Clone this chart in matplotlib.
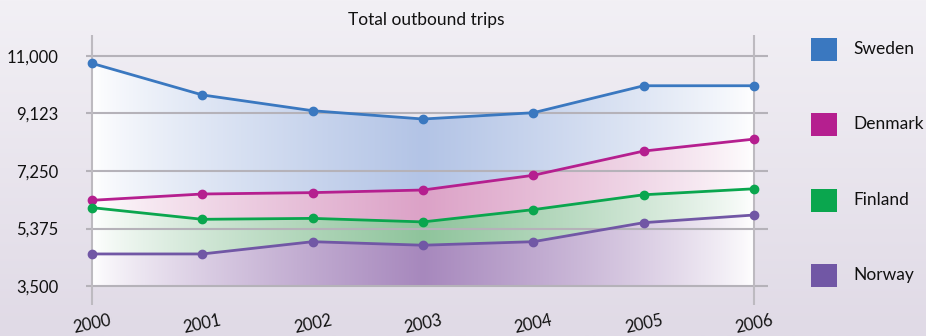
import numpy as np
import matplotlib.pyplot as plt
from matplotlib.colors import to_rgb
from matplotlib.patches import Rectangle

years = [2000, 2001, 2002, 2003, 2004, 2005, 2006]
sweden = [10760, 9730, 9215, 8945, 9150, 10030, 10030]
denmark = [6295, 6500, 6545, 6630, 7110, 7900, 8290]
finland = [6055, 5675, 5705, 5590, 5990, 6475, 6670]
norway = [4545, 4545, 4945, 4830, 4945, 5565, 5815]

names = ["Sweden", "Denmark", "Finland", "Norway"]
line_colors = ["#3a78c0", "#b51f8f", "#0aa64e", "#7157a5"]
fill_colors = ["#b3c4e6", "#dca2c7", "#8fc49c", "#a788bd"]

ytick_vals = [3500, 5375, 7250, 9125, 11000]
ytick_labels = ["3,500", "5,375", "7,250", "9,123", "11,000"]

plt.rcParams['font.family'] = ['Lato', 'DejaVu Sans']

fig = plt.figure(figsize=(9.26, 3.36), dpi=100)

# background gradient
bg = fig.add_axes([0, 0, 1, 1], zorder=-10)
top = np.array(to_rgb("#f2f0f5"))
bot = np.array(to_rgb("#e0dae6"))
g = np.linspace(0, 1, 200)[:, None, None]
bg.imshow(top * (1 - g) + bot * g, aspect='auto', extent=(0, 1, 0, 1), origin='upper')
bg.axis('off')

ax = fig.add_axes([86 / 926, 31 / 336, 682 / 926, 270 / 336])
ax.patch.set_visible(False)
ax.set_xlim(2000 - 6 / 110.33, 2006 + 14 / 110.33)
ax.set_ylim(3500 - 19 * 32.6, 11000 + 21 * 32.6)

data = [sweden, denmark, finland, norway]
lowers = [denmark, finland, norway, [3500] * len(years)]

# horizontal gradient: white at the ends, full colour in the middle
xs = np.linspace(2000, 2006, 400)
t = (1 - np.abs(xs - 2003) / 3) ** 0.8
for upper, lower, fc in zip(data, lowers, fill_colors):
    poly = ax.fill_between(years, lower, upper, facecolor='none', edgecolor='none')
    c = np.array(to_rgb(fc))
    img = np.ones(3)[None, :] * (1 - t[:, None]) + c[None, :] * t[:, None]
    im = ax.imshow(img[None, :, :], extent=(2000, 2006, 3500, 11000), aspect='auto',
                   interpolation='bilinear', zorder=1)
    im.set_clip_path(poly.get_paths()[0], ax.transData)

for v in ytick_vals:
    ax.axhline(v, color="#b5b2b9", lw=1.5, zorder=2)
for x in (2000, 2006):
    ax.axvline(x, color="#bdbac0", lw=1.5, zorder=2)

for vals, lc in zip(data, line_colors):
    ax.plot(years, vals, color=lc, lw=2, marker='o', markersize=6, zorder=3)

ax.set_yticks(ytick_vals)
ax.set_yticklabels(ytick_labels)
ax.set_xticks(years)
ax.set_xticklabels([str(y) for y in years], rotation=12, ha='center')
ax.tick_params(axis='y', length=0, pad=20, labelsize=12, labelcolor='#111111')
ax.tick_params(axis='x', length=0, pad=5, labelsize=12, labelcolor='#111111')
for s in ax.spines.values():
    s.set_visible(False)

fig.text(426 / 926, 1 - 20 / 336, "Total outbound trips", ha='center', va='center',
         fontsize=12.5, color='#111111')

# legend
for i, (name, lc) in enumerate(zip(names, line_colors)):
    yc = 49 + i * 75.3
    fig.add_artist(Rectangle((811 / 926, 1 - (yc + 12) / 336), 26 / 926, 23 / 336,
                             transform=fig.transFigure, facecolor=lc, edgecolor='none'))
    fig.text(853 / 926, 1 - yc / 336, name, ha='left', va='center',
             fontsize=12.5, color='#111111')

fig.savefig("out.png", dpi=100)
